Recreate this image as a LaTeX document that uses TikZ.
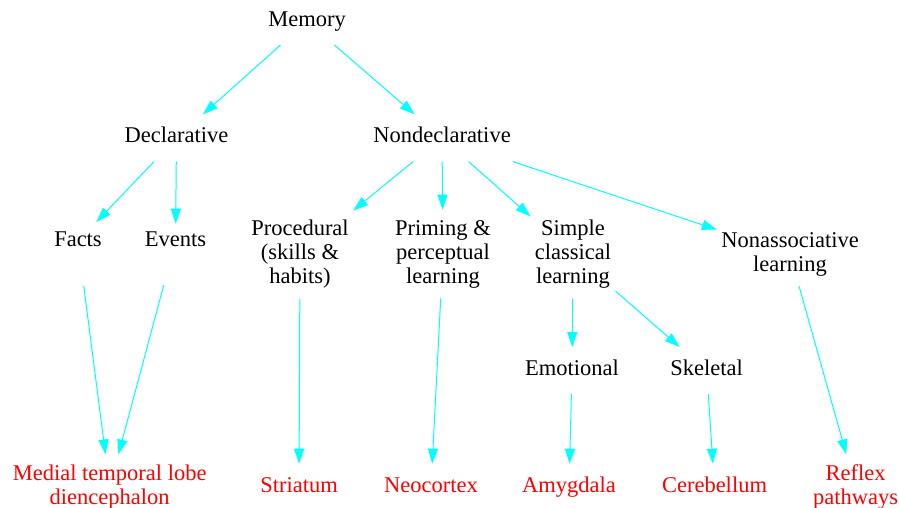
\documentclass[tikz,border=0pt]{standalone}
\usepackage{fontspec}
\setmainfont{Liberation Serif}
\usetikzlibrary{arrows.meta}
\definecolor{linkCyan}{HTML}{00FFFF}
\definecolor{areaRed}{HTML}{FF0000}

\begin{document}
\begin{tikzpicture}[x=0.5pt, y=-0.5pt,
    font=\fontsize{11.25}{12}\selectfont,
    word/.style={inner xsep=2pt, inner ysep=7pt, text height=0.7em, text depth=0.22em},
    lines/.style={align=center, inner xsep=2pt, inner ysep=5pt},
    area/.style={text=areaRed},
    link/.style={-{Triangle[length=7.5pt,width=5pt]}, linkCyan, line width=0.5pt}]
    \useasboundingbox (0,0) rectangle (899,508);

    % memory systems
    \node[word] (mem) at (307,21.3) {Memory};
    \node[word] (decl) at (176.5,138) {Declarative};
    \node[word] (nondecl) at (442,138) {Nondeclarative};
    \node[word] (facts) at (78,241.3) {Facts};
    \node[word] (events) at (175.5,241.3) {Events};
    \node[lines] (proc) at (300,254) {Procedural\\(skills \&\\habits)};
    \node[lines] (prim) at (443,254) {Priming \&\\perceptual\\learning};
    \node[lines] (simple) at (573,254) {Simple\\classical\\learning};
    \node[lines] (nonassoc) at (790,254) {Nonassociative\\learning};
    \node[word] (emo) at (572,370.6) {Emotional};
    \node[word] (skel) at (706.7,370.6) {Skeletal};

    % brain areas
    \node[lines, area] (mtl) at (109.7,487) {Medial temporal lobe\\diencephalon};
    \node[word, area] (stri) at (299,487.3) {Striatum};
    \node[word, area] (neo) at (431,487.3) {Neocortex};
    \node[word, area] (amyg) at (569,487.3) {Amygdala};
    \node[word, area] (cereb) at (714.5,487.3) {Cerebellum};
    \node[lines, area] (reflex) at (855.5,487) {Reflex\\pathways};

    \foreach \a/\b in {mem/decl, mem/nondecl, nondecl/proc, nondecl/prim,
        nondecl/simple, nondecl/nonassoc, proc/stri, prim/neo, simple/emo,
        simple/skel, emo/amyg, skel/cereb, nonassoc/reflex} {
        \draw[link] (\a) -- (\b);
    }
    \draw[link, shorten >=-3pt] (decl) -- (facts);
    \draw[link, shorten >=-3pt] (decl) -- (events);
    \draw[link, shorten <=10.5pt] (facts) -- (mtl);
    \draw[link, shorten <=10.5pt] (events) -- (mtl);
\end{tikzpicture}
\end{document}
